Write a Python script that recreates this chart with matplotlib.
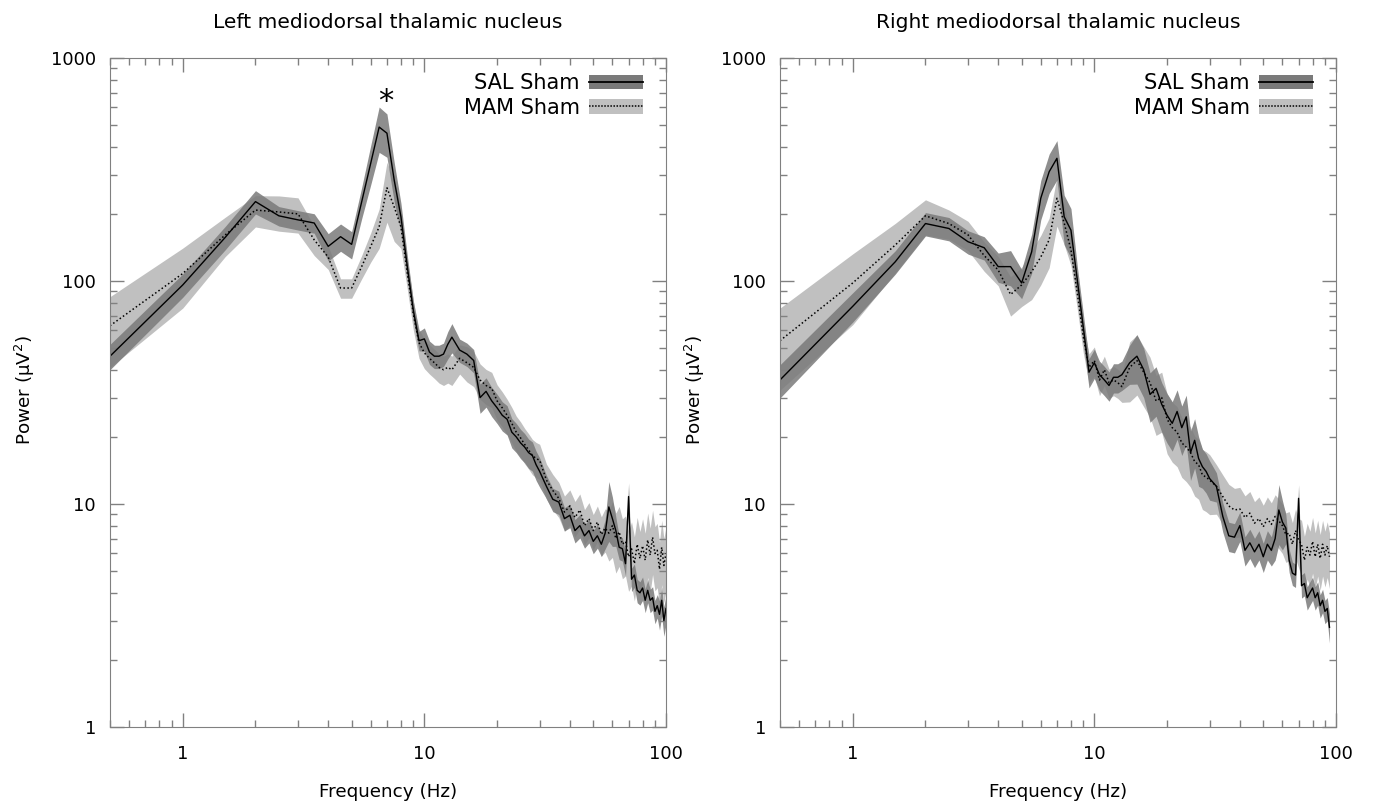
import matplotlib
matplotlib.use("Agg")
import matplotlib.pyplot as plt
from matplotlib.lines import Line2D
from matplotlib.patches import Patch
from matplotlib.legend_handler import HandlerTuple
from matplotlib.ticker import FixedLocator, FuncFormatter, LogLocator, NullFormatter
import numpy as np

# frequency grid (Hz)
freqs = [0.5, 1, 1.5, 2, 2.5, 3, 3.5, 4, 4.5, 5, 5.5, 6, 6.5, 7, 7.5, 8, 8.5, 9, 9.5, 10,
         10.5, 11, 11.5, 12, 12.5, 13,
         14, 15, 16, 17, 18, 19, 20, 21, 22, 23, 24, 25, 26, 27, 28, 29, 30,
         32, 34, 36, 38, 40, 42, 44, 46, 48, 50, 52, 54, 56, 58, 60, 62, 64, 66, 68, 70,
         72, 74, 76, 78, 80, 82, 84, 86, 88, 90, 92, 94, 96, 98, 100]

# LEFT panel
sal_left = [46, 96, 157, 227, 196, 188, 182, 143, 158, 146, 226, 338, 490, 460, 284, 194, 116, 74, 54, 55,
            48, 46, 46, 47, 52, 56,
            49, 47, 44, 30, 32, 29, 27, 25, 24, 21, 20, 18.8, 18, 17, 16.5, 15, 14,
            12, 10.5, 10.2, 8.6, 8.9, 7.6, 8.0, 7.2, 7.6, 6.8, 7.2, 6.6, 7.4, 9.7, 8.6, 7.6, 6.4, 6.3, 5.4, 10.8,
            4.6, 4.8, 4.1, 4.0, 4.2, 3.7, 4.1, 3.7, 3.8, 3.3, 3.5, 3.2, 3.7, 3.0, 3.4]
sal_left_err = ([0.13, 0.12, 0.12, 0.12, 0.10, 0.10, 0.10, 0.14, 0.14, 0.14, 0.16, 0.20, 0.23, 0.22, 0.20,
                 0.15, 0.12, 0.10, 0.10, 0.12, 0.12, 0.12, 0.12, 0.12, 0.14, 0.15]
                + [0.12, 0.12, 0.12, 0.15, 0.15, 0.15, 0.15, 0.15, 0.15, 0.15, 0.15, 0.15, 0.15, 0.15,
                   0.15, 0.15, 0.15]
                + [0.12, 0.12, 0.12, 0.12, 0.12, 0.12, 0.12, 0.12, 0.12, 0.12, 0.12, 0.12, 0.15, 0.30,
                   0.25, 0.15, 0.12, 0.12, 0.12, 0.15, 0.12, 0.12, 0.12, 0.12, 0.12, 0.12, 0.12, 0.12,
                   0.12, 0.12, 0.12, 0.15, 0.15, 0.15, 0.15])
mam_left = [63, 108, 161, 208, 204, 200, 153, 128, 93, 93, 116, 143, 175, 262, 215, 175, 108, 71, 53, 47.6,
            45, 43, 41, 40, 41, 40,
            45, 43, 41, 36, 34, 33, 29, 27, 25, 23, 21, 19.8, 18.5, 17.5, 16.5, 16, 15.7,
            12.8, 11.5, 10.6, 9.2, 9.8, 8.7, 9.4, 8.0, 8.6, 7.6, 8.3, 7.3, 7.8, 7.4, 8.0, 7.0, 7.5, 6.6, 6.8, 5.8,
            6.3, 5.4, 6.6, 5.7, 6.5, 5.6, 6.9, 5.9, 7.1, 6.0, 6.2, 5.1, 6.4, 5.3, 6.0]
mam_left_err = ([0.35, 0.30, 0.20, 0.16, 0.18, 0.18, 0.15, 0.12, 0.10, 0.10, 0.12, 0.15, 0.20, 0.30, 0.30,
                 0.20, 0.15, 0.15, 0.15, 0.15, 0.15, 0.15, 0.15, 0.15, 0.15, 0.15]
                + [0.15, 0.18, 0.18, 0.18, 0.18, 0.18, 0.18, 0.18, 0.18, 0.18, 0.18, 0.18, 0.18, 0.18,
                   0.18, 0.18, 0.18]
                + [0.18, 0.18, 0.18, 0.18, 0.18, 0.18, 0.18, 0.18, 0.18, 0.18, 0.18, 0.20, 0.22, 0.25,
                   0.28, 0.30, 0.30, 0.30, 0.30, 0.30, 0.32, 0.32, 0.32, 0.32, 0.32, 0.32, 0.32, 0.32,
                   0.32, 0.32, 0.32, 0.32, 0.32, 0.32, 0.32])

# RIGHT panel (data stops at 94 Hz)
sal_right = [36, 77, 122, 181, 172, 150, 141, 116, 116, 98, 135, 235, 309, 355, 194, 169, 101, 62, 39, 43,
             38, 36, 34, 37, 37, 38,
             43, 46, 40, 31, 33, 28, 25, 23, 26, 22, 24.6, 17, 19.3, 16, 14.7, 14, 13,
             12, 8.8, 7.2, 7.1, 8.0, 6.2, 6.7, 6.1, 6.6, 5.8, 6.6, 6.2, 7.0, 9.4, 8.3, 7.8, 5.6, 4.9, 4.8, 10.6,
             4.3, 4.4, 3.8, 4.0, 4.2, 3.8, 4.0, 3.5, 3.7, 3.3, 3.4, 2.8]
sal_right_err = ([0.17, 0.15, 0.12, 0.12, 0.12, 0.12, 0.12, 0.15, 0.18, 0.15, 0.20, 0.20, 0.20, 0.20, 0.25,
                  0.25, 0.15, 0.15, 0.15, 0.15, 0.15, 0.15, 0.15, 0.15, 0.15, 0.15]
                 + [0.20, 0.25, 0.25, 0.25, 0.25, 0.25, 0.25, 0.25, 0.25, 0.25, 0.25, 0.25, 0.25, 0.25,
                    0.20, 0.20, 0.20]
                 + [0.15, 0.15, 0.15, 0.15, 0.15, 0.15, 0.15, 0.15, 0.15, 0.15, 0.15, 0.15, 0.20, 0.30,
                    0.25, 0.15, 0.12, 0.12, 0.12, 0.15, 0.12, 0.12, 0.12, 0.12, 0.12, 0.12, 0.12, 0.12,
                    0.12, 0.12, 0.12, 0.15])
mam_right = [54, 98, 145, 196, 181, 161, 130, 112, 87, 96, 110, 128, 153, 235, 182, 138, 88, 56, 41, 44,
             36, 40, 35, 36, 35, 33.6,
             41, 44, 39, 35, 29, 30, 24, 22, 21, 18.8, 18, 17, 15.5, 15, 13.5, 13.2, 12.8,
             12, 10.8, 9.8, 9.4, 9.5, 8.7, 9.1, 8.2, 8.6, 7.9, 8.6, 8.1, 8.8, 8.4, 8.0, 7.3, 7.4, 6.6, 7.6, 6.9,
             6.6, 5.6, 6.4, 5.9, 6.8, 5.8, 6.6, 5.7, 6.6, 5.9, 6.5, 5.8]
mam_right_err = ([0.40, 0.35, 0.25, 0.18, 0.15, 0.15, 0.15, 0.15, 0.20, 0.20, 0.25, 0.25, 0.25, 0.25, 0.20,
                  0.15, 0.15, 0.15, 0.15, 0.15, 0.15, 0.15, 0.15, 0.15, 0.15, 0.15]
                 + [0.30, 0.30, 0.30, 0.30, 0.30, 0.30, 0.30, 0.30, 0.30, 0.30, 0.30, 0.30, 0.30, 0.30,
                    0.30, 0.30, 0.30]
                 + [0.25, 0.25, 0.25, 0.25, 0.25, 0.25, 0.25, 0.25, 0.25, 0.25, 0.25, 0.25, 0.25, 0.25,
                    0.25, 0.25, 0.25, 0.25, 0.25, 0.25, 0.28, 0.28, 0.28, 0.28, 0.28, 0.28, 0.28, 0.28,
                    0.28, 0.28, 0.28, 0.28])

titles = ["Left mediodorsal thalamic nucleus", "Right mediodorsal thalamic nucleus"]
y_ticks = [1, 10, 100, 1000]
x_ticks = [1, 10, 100]

DARK = "#7a7a7a"
LIGHT = "#c0c0c0"
AXC = "#808080"

fig = plt.figure(figsize=(13.73, 8.06), dpi=100)
W, H = 1373, 806


def draw_panel(x0, x1, sal, sal_err, mam, mam_err, title, star=False):
    ax = fig.add_axes([x0 / W, 1 - 727 / H, (x1 - x0) / W, (727 - 58) / H])
    fs = np.array(freqs[:len(sal)])
    sal = np.array(sal)
    mam = np.array(mam)
    se = np.array(sal_err)
    me = np.array(mam_err)
    ax.fill_between(fs, mam * (1 - me), mam * (1 + me), color=LIGHT, lw=0)
    ax.fill_between(fs, sal * (1 - se), sal * (1 + se), color=DARK, alpha=0.85, lw=0)
    ax.plot(fs, sal, color="black", lw=1.0)
    ax.plot(fs, mam, color="black", lw=1.1, ls=(0, (1, 1.6)))

    ax.set_xscale("log")
    ax.set_yscale("log")
    ax.set_xlim(0.5, 100)
    ax.set_ylim(1, 1000)
    ax.xaxis.set_major_locator(FixedLocator(x_ticks))
    ax.yaxis.set_major_locator(FixedLocator(y_ticks))
    ax.xaxis.set_minor_locator(LogLocator(base=10, subs=np.arange(2, 10)))
    ax.yaxis.set_minor_locator(LogLocator(base=10, subs=np.arange(2, 10)))
    fmt = FuncFormatter(lambda v, p: f"{v:g}")
    ax.xaxis.set_major_formatter(fmt)
    ax.yaxis.set_major_formatter(fmt)
    ax.xaxis.set_minor_formatter(NullFormatter())
    ax.yaxis.set_minor_formatter(NullFormatter())
    ax.tick_params(which="both", direction="in", top=True, right=True, color=AXC, labelsize=13)
    ax.tick_params(which="major", length=10, width=1)
    ax.tick_params(which="minor", length=5, width=1)
    ax.tick_params(axis="x", pad=13)
    ax.tick_params(axis="y", pad=10)
    for s in ax.spines.values():
        s.set_color(AXC)

    handles = [(Patch(facecolor=DARK, edgecolor="none"), Line2D([], [], color="black", lw=1.3)),
               (Patch(facecolor=LIGHT, edgecolor="none"), Line2D([], [], color="black", lw=1.1, ls=(0, (1, 1))))]
    ax.legend(handles, ["SAL Sham", "MAM Sham"], loc="upper right", bbox_to_anchor=(0.978, 0.993),
              frameon=False, markerfirst=False, fontsize=15, handlelength=2.6, handletextpad=0.45,
              borderpad=0, labelspacing=0.22,
              handler_map={tuple: HandlerTuple(ndivide=1, pad=0)})

    cx = (x0 + x1) / 2 / W
    fig.text(cx, 1 - 22 / H, title, ha="center", va="center", fontsize=14.6)
    fig.text(cx, 1 - 792 / H, "Frequency (Hz)", ha="center", va="center", fontsize=13.2)
    fig.text((x0 - 85) / W, 1 - 390 / H, "Power (μV$^2$)", ha="center", va="center",
             rotation=90, fontsize=13.2)
    if star:
        ax.text(6.95, 640, "*", ha="center", va="center", fontsize=22)
    return ax


draw_panel(110, 666, sal_left, sal_left_err, mam_left, mam_left_err, titles[0], star=True)
draw_panel(780, 1336, sal_right, sal_right_err, mam_right, mam_right_err, titles[1])

fig.savefig("out.png", dpi=100)
